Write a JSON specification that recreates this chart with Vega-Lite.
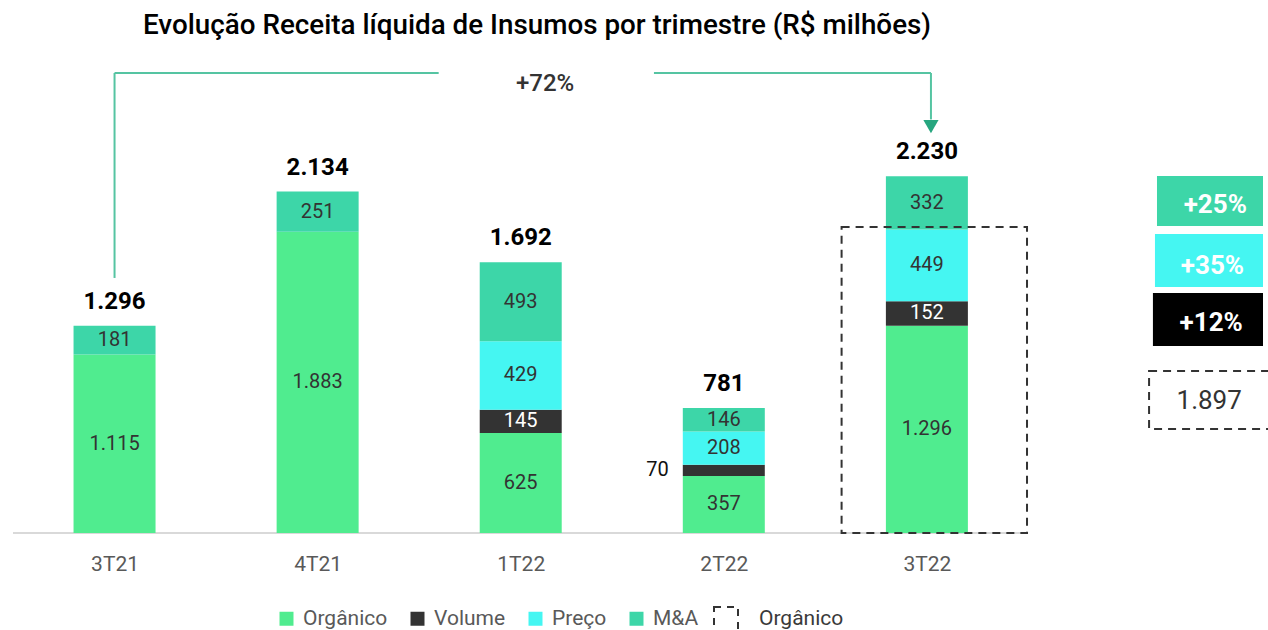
{
  "$schema": "https://vega.github.io/schema/vega-lite/v6.json",
  "autosize": "none",
  "width": 1260,
  "height": 480,
  "padding": {"left": 8, "top": 53, "right": 0, "bottom": 97},
  "background": "white",
  "title": {
    "text": "Evolução Receita líquida de Insumos por trimestre (R$ milhões)",
    "anchor": "start",
    "dx": 135,
    "offset": 13,
    "font": "Roboto",
    "fontSize": 27.8,
    "fontWeight": 500,
    "color": "#000000"
  },
  "datasets": {
    "seg": [
      {"q": "3T21", "i": 0, "seg": "Orgânico", "ord": 1, "v": 1115},
      {"q": "3T21", "i": 0, "seg": "M&A", "ord": 4, "v": 181},
      {"q": "4T21", "i": 1, "seg": "Orgânico", "ord": 1, "v": 1883},
      {"q": "4T21", "i": 1, "seg": "M&A", "ord": 4, "v": 251},
      {"q": "1T22", "i": 2, "seg": "Orgânico", "ord": 1, "v": 625},
      {"q": "1T22", "i": 2, "seg": "Volume", "ord": 2, "v": 145},
      {"q": "1T22", "i": 2, "seg": "Preço", "ord": 3, "v": 429},
      {"q": "1T22", "i": 2, "seg": "M&A", "ord": 4, "v": 493},
      {"q": "2T22", "i": 3, "seg": "Orgânico", "ord": 1, "v": 357},
      {"q": "2T22", "i": 3, "seg": "Volume", "ord": 2, "v": 70},
      {"q": "2T22", "i": 3, "seg": "Preço", "ord": 3, "v": 208},
      {"q": "2T22", "i": 3, "seg": "M&A", "ord": 4, "v": 146},
      {"q": "3T22", "i": 4, "seg": "Orgânico", "ord": 1, "v": 1296},
      {"q": "3T22", "i": 4, "seg": "Volume", "ord": 2, "v": 152},
      {"q": "3T22", "i": 4, "seg": "Preço", "ord": 3, "v": 449},
      {"q": "3T22", "i": 4, "seg": "M&A", "ord": 4, "v": 332}
    ],
    "tot": [
      {"q": "3T21", "i": 0, "total": 1296},
      {"q": "4T21", "i": 1, "total": 2134},
      {"q": "1T22", "i": 2, "total": 1692},
      {"q": "2T22", "i": 3, "total": 781},
      {"q": "3T22", "i": 4, "total": 2230}
    ],
    "bracket": [
      {"x1": 0, "x2": 0, "y1": 1594, "y2": 2875},
      {"x1": 0, "x2": 1.596, "y1": 2875, "y2": 2875},
      {"x1": 2.656, "x2": 4.02, "y1": 2875, "y2": 2875},
      {"x1": 4.02, "x2": 4.02, "y1": 2875, "y2": 2585}
    ],
    "boxes": [
      {"seg": "M&A", "t": "+25%", "x1": 5.133, "x2": 5.655, "y1": 2231, "y2": 1919, "xt": 5.42, "yt": 2050},
      {"seg": "Preço", "t": "+35%", "x1": 5.123, "x2": 5.655, "y1": 1869, "y2": 1537, "xt": 5.406, "yt": 1669},
      {"seg": "Volume", "t": "+12%", "x1": 5.113, "x2": 5.655, "y1": 1500, "y2": 1169, "xt": 5.40, "yt": 1312}
    ]
  },
  "layer": [
    {
      "data": {"values": [{"x1": -0.5, "x2": 4.493, "y": 0}]},
      "mark": {"type": "rule", "color": "#d9d9d9", "strokeWidth": 2},
      "encoding": {
        "x": {"field": "x1", "type": "quantitative", "title": null},
        "x2": {"field": "x2"},
        "y": {"field": "y", "type": "quantitative", "axis": null}
      }
    },
    {
      "data": {"name": "seg"},
      "transform": [
        {"stack": "v", "groupby": ["q"], "sort": [{"field": "ord"}], "as": ["v0", "v1"]}
      ],
      "mark": {"type": "bar", "size": 82},
      "encoding": {
        "x": {
          "field": "i",
          "type": "quantitative",
          "title": null,
          "scale": {"domain": [-0.5, 5.655], "nice": false, "zero": false},
          "axis": {
            "values": [0, 1, 2, 3, 4],
            "labelExpr": "['3T21','4T21','1T22','2T22','3T22'][datum.value]",
            "domain": false,
            "ticks": false,
            "grid": false,
            "labelPadding": 20,
            "labelFont": "Roboto",
            "labelFontSize": 21,
            "labelColor": "#595959"
          }
        },
        "y": {
          "field": "v0",
          "type": "quantitative",
          "scale": {"domain": [0, 3000], "nice": false},
          "axis": null
        },
        "y2": {"field": "v1"},
        "color": {
          "field": "seg",
          "type": "nominal",
          "scale": {
            "domain": ["Orgânico", "Volume", "Preço", "M&A"],
            "range": ["#50ec8f", "#333333", "#45f6f2", "#3dd6a8"]
          },
          "legend": {
            "orient": "none",
            "legendX": 268,
            "legendY": 555,
            "direction": "horizontal",
            "title": null,
            "symbolType": "square",
            "symbolSize": 196,
            "symbolStrokeWidth": 0,
            "labelFont": "Roboto",
            "labelFontSize": 21,
            "labelColor": "#595959",
            "labelOffset": 6,
            "columnPadding": 19
          }
        }
      }
    },
    {
      "data": {"name": "seg"},
      "transform": [
        {"stack": "v", "groupby": ["q"], "sort": [{"field": "ord"}], "as": ["v0", "v1"]},
        {"fold": ["v0", "v1"], "as": ["edge", "pos"]},
        {"aggregate": [{"op": "mean", "field": "pos", "as": "mid"}], "groupby": ["q", "i", "seg", "v"]}
      ],
      "layer": [
        {
          "transform": [{"filter": "!(datum.q == '2T22' && datum.seg == 'Volume')"}],
          "mark": {"type": "text", "font": "Roboto", "fontSize": 20, "baseline": "middle"},
          "encoding": {
            "x": {"field": "i", "type": "quantitative", "title": null},
            "y": {"field": "mid", "type": "quantitative", "axis": null},
            "text": {"field": "v", "type": "quantitative", "format": ",d"},
            "color": {"condition": {"test": "datum.seg == 'Volume'", "value": "#ffffff"}, "value": "#333333"}
          }
        },
        {
          "transform": [{"filter": "datum.q == '2T22' && datum.seg == 'Volume'"}],
          "mark": {"type": "text", "font": "Roboto", "fontSize": 20, "color": "#111111", "baseline": "middle", "align": "right", "dx": -55},
          "encoding": {
            "x": {"field": "i", "type": "quantitative", "title": null},
            "y": {"field": "mid", "type": "quantitative", "axis": null},
            "text": {"field": "v", "type": "quantitative", "format": ",d"}
          }
        }
      ]
    },
    {
      "data": {"name": "tot"},
      "mark": {"type": "text", "font": "Roboto", "fontSize": 24, "fontWeight": "bold", "color": "#000000", "baseline": "alphabetic", "dy": -17},
      "encoding": {
        "x": {"field": "i", "type": "quantitative", "title": null},
        "y": {"field": "total", "type": "quantitative", "axis": null},
        "text": {"field": "total", "type": "quantitative", "format": ",d"}
      }
    },
    {
      "data": {"values": [{"x1": 3.58, "x2": 4.493, "y1": 0, "y2": 1912, "k": "Orgânico"}]},
      "mark": {"type": "rect", "filled": false, "strokeWidth": 2, "strokeDash": [8, 6]},
      "encoding": {
        "x": {"field": "x1", "type": "quantitative", "title": null},
        "x2": {"field": "x2"},
        "y": {"field": "y1", "type": "quantitative", "axis": null},
        "y2": {"field": "y2"},
        "stroke": {
          "field": "k",
          "type": "nominal",
          "scale": {"domain": ["Orgânico"], "range": ["#333333"]},
          "legend": {
            "orient": "none",
            "legendX": 705,
            "legendY": 553,
            "direction": "horizontal",
            "title": null,
            "symbolType": "square",
            "symbolSize": 576,
            "symbolFillColor": "transparent",
            "symbolStrokeWidth": 2,
            "symbolDash": [7, 6],
            "labelFont": "Roboto",
            "labelFontSize": 21,
            "labelColor": "#3a3a3a",
            "labelOffset": 20
          }
        }
      }
    },
    {
      "data": {"name": "bracket"},
      "mark": {"type": "rule", "color": "#55c4a2", "strokeWidth": 2},
      "encoding": {
        "x": {"field": "x1", "type": "quantitative", "title": null},
        "x2": {"field": "x2"},
        "y": {"field": "y1", "type": "quantitative", "axis": null},
        "y2": {"field": "y2"}
      }
    },
    {
      "data": {"values": [{"x": 4.02, "y": 2540}]},
      "mark": {"type": "point", "shape": "triangle-down", "filled": true, "color": "#27a67f", "size": 230, "opacity": 1},
      "encoding": {
        "x": {"field": "x", "type": "quantitative", "title": null},
        "y": {"field": "y", "type": "quantitative", "axis": null}
      }
    },
    {
      "data": {"values": [{"x": 2.12, "y": 2806, "t": "+72%"}]},
      "mark": {"type": "text", "font": "Roboto", "fontSize": 24, "fontWeight": 500, "color": "#333333", "baseline": "middle"},
      "encoding": {
        "x": {"field": "x", "type": "quantitative", "title": null},
        "y": {"field": "y", "type": "quantitative", "axis": null},
        "text": {"field": "t"}
      }
    },
    {
      "data": {"name": "boxes"},
      "mark": {"type": "rect"},
      "encoding": {
        "x": {"field": "x1", "type": "quantitative", "title": null},
        "x2": {"field": "x2"},
        "y": {"field": "y1", "type": "quantitative", "axis": null},
        "y2": {"field": "y2"},
        "fill": {
          "field": "seg",
          "type": "nominal",
          "scale": {"domain": ["M&A", "Preço", "Volume"], "range": ["#3dd6a8", "#45f6f2", "#000000"]},
          "legend": null
        }
      }
    },
    {
      "data": {"name": "boxes"},
      "mark": {"type": "text", "font": "Roboto", "fontSize": 26, "fontWeight": "bold", "color": "#ffffff", "baseline": "middle"},
      "encoding": {
        "x": {"field": "xt", "type": "quantitative", "title": null},
        "y": {"field": "yt", "type": "quantitative", "axis": null},
        "text": {"field": "t"}
      }
    },
    {
      "data": {"values": [{"x1": 5.094, "x2": 6.5, "y1": 1012, "y2": 650}]},
      "mark": {"type": "rect", "filled": false, "color": "#333333", "strokeWidth": 2, "strokeDash": [8, 6]},
      "encoding": {
        "x": {"field": "x1", "type": "quantitative", "title": null},
        "x2": {"field": "x2"},
        "y": {"field": "y1", "type": "quantitative", "axis": null},
        "y2": {"field": "y2"}
      }
    },
    {
      "data": {"values": [{"x": 5.39, "y": 825, "v": 1897}]},
      "mark": {"type": "text", "font": "Roboto", "fontSize": 26, "color": "#333333", "baseline": "middle"},
      "encoding": {
        "x": {"field": "x", "type": "quantitative", "title": null},
        "y": {"field": "y", "type": "quantitative", "axis": null},
        "text": {"field": "v", "type": "quantitative", "format": ",d"}
      }
    }
  ],
  "config": {
    "view": {"stroke": null},
    "locale": {"number": {"decimal": ",", "thousands": ".", "grouping": [3], "currency": ["R$ ", ""]}},
    "font": "Roboto"
  }
}
